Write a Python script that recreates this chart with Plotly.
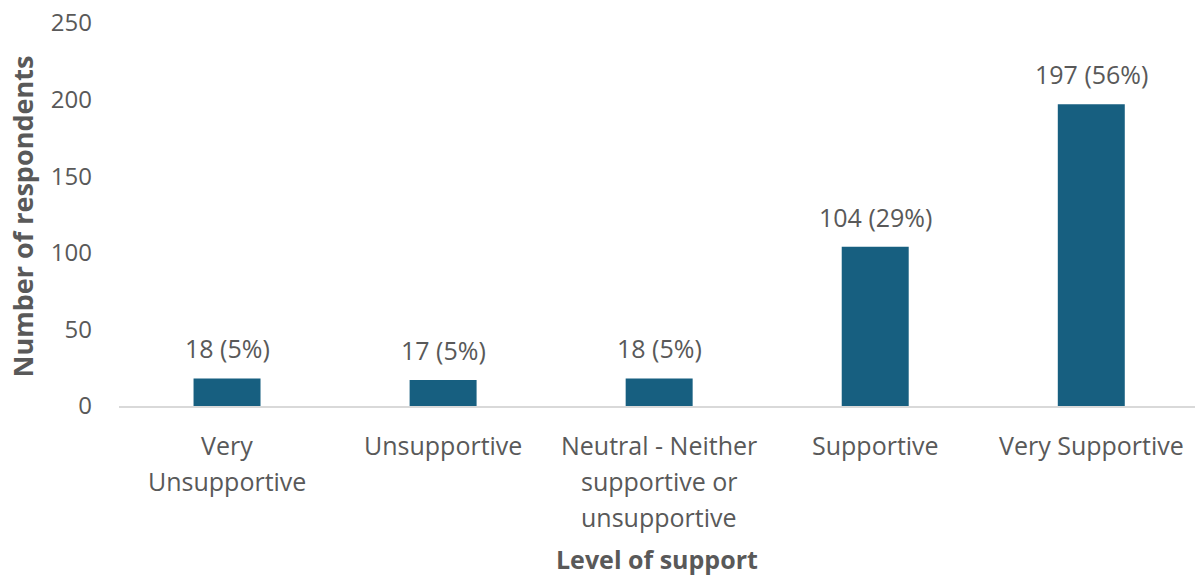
import plotly.graph_objects as go

# Survey responses by level of support
categories = ["Very Unsupportive", "Unsupportive",
              "Neutral - Neither supportive or unsupportive",
              "Supportive", "Very Supportive"]
category_lines = [["Very", "Unsupportive"], ["Unsupportive"],
                  ["Neutral - Neither", "supportive or", "unsupportive"],
                  ["Supportive"], ["Very Supportive"]]
respondents = [18, 17, 18, 104, 197]
y_ticks = [0, 50, 100, 150, 200, 250]

total = sum(respondents)
labels = [f"{v} ({round(100 * v / total)}%)" for v in respondents]

FONT = "Open Sans"
TEXT = "#595959"
BAR = "#175F80"

fig = go.Figure(go.Bar(
    x=categories, y=respondents,
    marker=dict(color=BAR, line=dict(width=0)),
    width=0.31,
    hoverinfo="x+y",
))

annotations = []
# value labels above bars
for cat, v, lab in zip(categories, respondents, labels):
    annotations.append(dict(
        x=cat, y=v, xref="x", yref="y", text=lab, showarrow=False,
        yanchor="bottom", yshift=11,
        font=dict(family=FONT, size=25, color=TEXT),
    ))
# multi-line category labels below the axis
for cat, lines in zip(categories, category_lines):
    for i, line in enumerate(lines):
        annotations.append(dict(
            x=cat, y=0, xref="x", yref="y", text=line, showarrow=False,
            yanchor="middle", yshift=-(39 + 36 * i),
            font=dict(family=FONT, size=25, color=TEXT),
        ))
# axis titles
annotations.append(dict(
    x=0, y=0.5, xref="paper", yref="paper", text="<b>Number of respondents</b>",
    showarrow=False, textangle=-90, xanchor="center", yanchor="middle",
    xshift=-97, yshift=-2,
    font=dict(family=FONT, size=27, color=TEXT),
))
annotations.append(dict(
    x=0.5, y=0, xref="paper", yref="paper", text="<b>Level of support</b>",
    showarrow=False, yanchor="middle", yshift=-153,
    font=dict(family=FONT, size=25, color=TEXT),
))

fig.update_layout(
    width=1195, height=578,
    margin=dict(l=119, r=0, t=23, b=172),
    paper_bgcolor="white", plot_bgcolor="white",
    showlegend=False,
    annotations=annotations,
    xaxis=dict(range=[-0.5, 4.48], showticklabels=False, ticks="",
               showgrid=False, showline=True, linecolor="#D9D9D9",
               linewidth=2, zeroline=False),
    yaxis=dict(range=[0, 250], tickvals=y_ticks, showgrid=False,
               zeroline=False, showline=False, ticks="",
               ticklabelstandoff=26,
               tickfont=dict(family=FONT, size=24, color=TEXT)),
)

fig.write_html("out.html")
